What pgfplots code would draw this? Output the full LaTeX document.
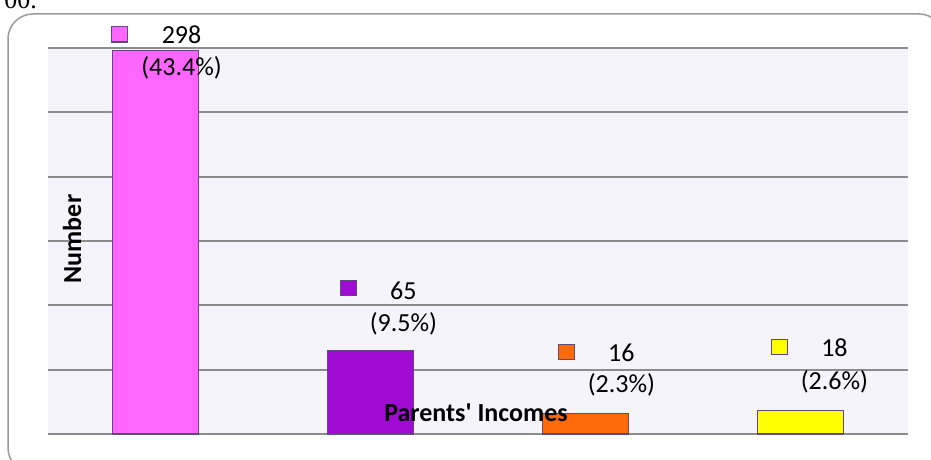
\documentclass[border=0pt]{standalone}
\usepackage{pgfplots}
\pgfplotsset{compat=1.18}
\usepackage{fontspec}
\setmainfont{Carlito}
\newfontfamily\seriffont{Liberation Serif}
\definecolor{pinkc}{HTML}{FF66FF}
\definecolor{purplec}{HTML}{A00AD2}
\definecolor{orangec}{HTML}{FF6A0A}
\definecolor{yellowc}{HTML}{FFFF00}
\definecolor{outc}{HTML}{604A7B}
\definecolor{gridc}{HTML}{8C8C8C}
\definecolor{bgc}{HTML}{F4F4FA}
\definecolor{framec}{HTML}{9A9A9A}
\tikzset{lbl/.style={font=\fontsize{26}{30}\selectfont, inner sep=0pt}}
\begin{document}
\begin{tikzpicture}[x=1pt,y=1pt]
\useasboundingbox (0,0) rectangle (931,459);
\draw[draw=framec, line width=1.5pt, rounded corners=25pt] (8,445) rectangle (944,-14);
\node[font=\seriffont\fontsize{26}{30}\selectfont, anchor=base east, inner sep=0pt] at (37,450) {00.};
\begin{axis}[
  at={(48pt,25pt)}, anchor=south west,
  scale only axis, width=860pt, height=386pt,
  xmin=-0.5, xmax=3.5, ymin=0, ymax=300,
  ytick={0,50,...,300}, yticklabels={}, xtick=\empty,
  ymajorgrids, major grid style={draw=gridc, line width=2pt},
  axis line style={draw=none}, tick style={draw=none},
  axis background/.style={fill=bgc},
  clip=false,
]
\addplot[ybar, bar shift=0pt, bar width=86pt, fill=pinkc, draw=outc, line width=1.3pt] coordinates {(0,298)};
\addplot[ybar, bar shift=0pt, bar width=86pt, fill=purplec, draw=outc, line width=1.3pt] coordinates {(1,65)};
\addplot[ybar, bar shift=0pt, bar width=86pt, fill=orangec, draw=outc, line width=1.3pt] coordinates {(2,16)};
\addplot[ybar, bar shift=0pt, bar width=86pt, fill=yellowc, draw=outc, line width=1.3pt] coordinates {(3,18)};
% legend-key squares beside the data labels
\addplot[only marks, mark=square*, mark size=7.8pt, mark options={fill=pinkc, draw=outc, line width=1.2pt}] coordinates {(-0.167,310.8)};
\addplot[only marks, mark=square*, mark size=7.8pt, mark options={fill=purplec, draw=outc, line width=1.2pt}] coordinates {(0.898,113.4)};
\addplot[only marks, mark=square*, mark size=7.8pt, mark options={fill=orangec, draw=outc, line width=1.2pt}] coordinates {(1.912,63.7)};
\addplot[only marks, mark=square*, mark size=7.8pt, mark options={fill=yellowc, draw=outc, line width=1.2pt}] coordinates {(2.902,67.6)};
% data labels
\node[lbl] at (axis cs:0.121,310) {298};
\node[lbl] at (axis cs:0.121,285) {(43.4\%)};
\node[lbl] at (axis cs:1.153,111) {65};
\node[lbl] at (axis cs:1.153,86) {(9.5\%)};
\node[lbl] at (axis cs:2.167,63) {16};
\node[lbl] at (axis cs:2.167,38) {(2.3\%)};
\node[lbl] at (axis cs:3.158,66.8) {18};
\node[lbl] at (axis cs:3.158,40.4) {(2.6\%)};
\end{axis}
\node[font=\bfseries\fontsize{26}{30}\selectfont, rotate=90, inner sep=0pt] at (72,220) {Number};
\node[font=\bfseries\fontsize{26}{30}\selectfont, inner sep=0pt] at (476,46) {Parents\textquotesingle{} Incomes};
\end{tikzpicture}
\end{document}
